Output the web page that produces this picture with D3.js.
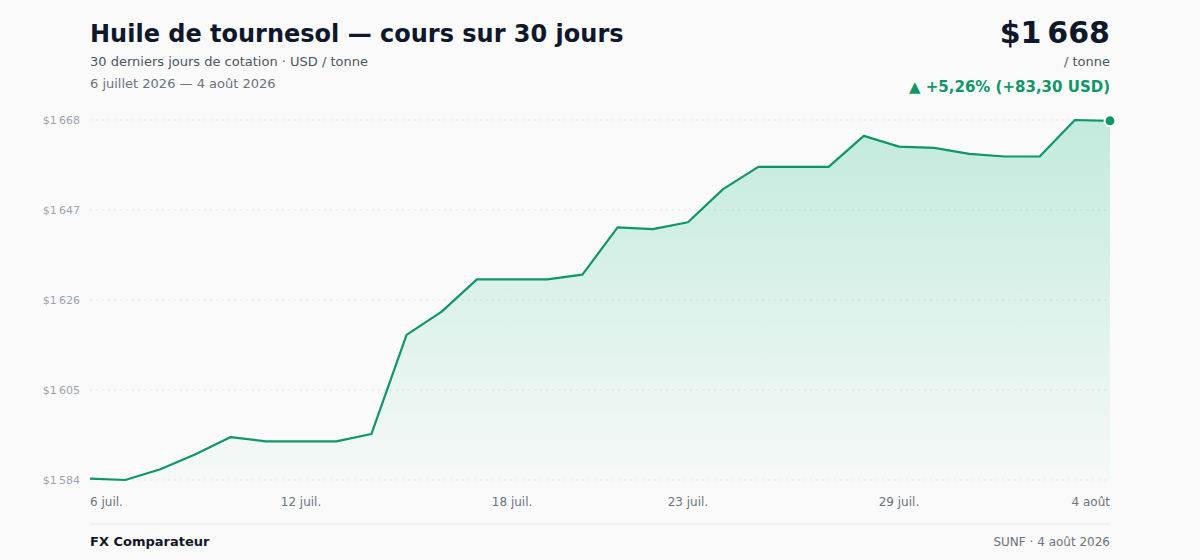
<!DOCTYPE html>
<html><head><meta charset="utf-8">
<script src="https://cdn.jsdelivr.net/npm/d3@7/dist/d3.min.js"></script>
<style>
html,body{margin:0;padding:0;background:#fafafa;}
svg{display:block;font-family:"DejaVu Sans",sans-serif;}
</style></head>
<body><svg id="c" width="1200" height="560"></svg>
<script>
const dates = ["2026-07-06","2026-07-07","2026-07-08","2026-07-09","2026-07-10","2026-07-11","2026-07-12","2026-07-13","2026-07-14","2026-07-15",
"2026-07-16","2026-07-17","2026-07-18","2026-07-19","2026-07-20","2026-07-21","2026-07-22","2026-07-23","2026-07-24","2026-07-25",
"2026-07-26","2026-07-27","2026-07-28","2026-07-29","2026-07-30","2026-07-31","2026-08-01","2026-08-02","2026-08-03","2026-08-04"];
const prices = [1584.7,1584.4,1586.9,1590.4,1594.4,1593.4,1593.4,1593.4,1595.1,1618.2,
1623.6,1631.1,1631.1,1631.1,1632.2,1643.2,1642.8,1644.4,1652.1,1657.3,
1657.3,1657.3,1664.5,1662.0,1661.7,1660.3,1659.7,1659.7,1668.2,1668.0];
const tickDates = ["2026-07-06","2026-07-12","2026-07-18","2026-07-23","2026-07-29","2026-08-04"];
const tickLabels = ["6 juil.","12 juil.","18 juil.","23 juil.","29 juil.","4 août"];

const parse = d3.timeParse("%Y-%m-%d");
const data = dates.map((d,i)=>({date:parse(d), v:prices[i]}));
const fr = d3.formatLocale({decimal:",", thousands:"\u202f", grouping:[3], currency:["$",""]});
const fmtInt = fr.format(",.0f");
const fmt2 = fr.format(",.2f");

const svg = d3.select("#c");
const W=1200, L=90, R=1110, T=120, B=480;
const green="#0f9668";

const x = d3.scaleTime().domain(d3.extent(data,d=>d.date)).range([L,R]);
const y = d3.scaleLinear().domain(d3.extent(data,d=>d.v)).range([B,T]);

// header
svg.append("text").attr("x",L).attr("y",42).attr("font-size",24).attr("font-weight","bold").attr("fill","#0f172a")
  .text("Huile de tournesol — cours sur 30 jours");
svg.append("text").attr("x",L).attr("y",66).attr("font-size",13).attr("fill","#4b5563")
  .text("30 derniers jours de cotation · USD / tonne");
svg.append("text").attr("x",L).attr("y",88).attr("font-size",13).attr("fill","#6b7280")
  .text("6 juillet 2026 — 4 août 2026");

const last = prices[prices.length-1], first = prices[0];
const diff = last-first, pct = diff/first*100;
svg.append("text").attr("x",R).attr("y",43).attr("text-anchor","end").attr("font-size",30).attr("font-weight","bold").attr("fill","#0f172a")
  .text("$"+fmtInt(last));
svg.append("text").attr("x",R).attr("y",66).attr("text-anchor","end").attr("font-size",13).attr("fill","#4b5563")
  .text("/ tonne");
svg.append("text").attr("x",R).attr("y",92).attr("text-anchor","end").attr("font-size",15).attr("font-weight","bold").attr("fill",green)
  .text("▲ +"+fmt2(pct)+"% (+"+fmt2(diff)+" USD)");

// gradient
const defs = svg.append("defs");
const g = defs.append("linearGradient").attr("id","ag").attr("x1",0).attr("x2",0).attr("y1",0).attr("y2",1);
g.append("stop").attr("offset","0%").attr("stop-color","#10b981").attr("stop-opacity",0.24);
g.append("stop").attr("offset","100%").attr("stop-color","#10b981").attr("stop-opacity",0.02);

// grid + y labels
const yt = y.ticks ? d3.range(5).map(i=>y.domain()[0]+(y.domain()[1]-y.domain()[0])*i/4) : [];
svg.append("g").selectAll("line").data(yt).join("line")
  .attr("x1",L).attr("x2",R).attr("y1",d=>y(d)).attr("y2",d=>y(d))
  .attr("stroke","#e5e7eb").attr("stroke-dasharray","2,4").attr("stroke-width",1);
svg.append("g").selectAll("text").data(yt).join("text")
  .attr("x",80).attr("y",d=>y(d)+4).attr("text-anchor","end").attr("font-size",11).attr("fill","#9ca3af")
  .text(d=>"$"+fmtInt(d));

// area & line
svg.append("path").datum(data).attr("fill","url(#ag)")
  .attr("d",d3.area().x(d=>x(d.date)).y0(B).y1(d=>y(d.v)));
svg.append("path").datum(data).attr("fill","none").attr("stroke",green).attr("stroke-width",2.2).attr("stroke-linejoin","round")
  .attr("d",d3.line().x(d=>x(d.date)).y(d=>y(d.v)));
const ld = data[data.length-1];
svg.append("circle").attr("cx",x(ld.date)).attr("cy",y(ld.v)).attr("r",5.5).attr("fill",green).attr("stroke","#fff").attr("stroke-width",2);

// x labels
svg.append("g").selectAll("text").data(tickDates).join("text")
  .attr("x",d=>x(parse(d))).attr("y",506).attr("font-size",12).attr("fill","#6b7280")
  .attr("text-anchor",(d,i)=>i===0?"start":(i===tickDates.length-1?"end":"middle"))
  .text((d,i)=>tickLabels[i]);

// footer
svg.append("line").attr("x1",L).attr("x2",R).attr("y1",524).attr("y2",524).attr("stroke","#e5e7eb").attr("stroke-width",1);
svg.append("text").attr("x",L).attr("y",546).attr("font-size",13).attr("font-weight","bold").attr("fill","#111827").text("FX Comparateur");
svg.append("text").attr("x",R).attr("y",546).attr("text-anchor","end").attr("font-size",12).attr("fill","#6b7280").text("SUNF · 4 août 2026");
</script></body></html>
